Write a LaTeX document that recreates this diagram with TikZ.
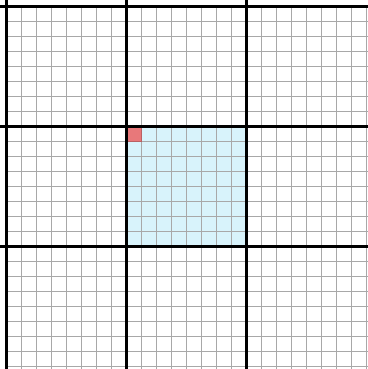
\documentclass[tikz,border=0pt]{standalone}
\usepackage{xcolor}
\usepackage{tikz}
\definecolor{blockblue}{HTML}{D8F3FB}
\definecolor{cellred}{HTML}{E8787A}
\tikzset{
  fine/.style   = {draw=gray!68, line width=1.2pt},
  coarse/.style = {draw=black, line width=3pt},
  region/.style = {fill=blockblue},
  pick/.style   = {fill=cellred, draw=cellred!80!black, line width=0.6pt},
}

\begin{document}
\begin{tikzpicture}[x=0.5cm, y=-0.5cm]
  \useasboundingbox (-0.45,-0.42) rectangle (24.08,24.18);
  % shaded block and picked cell
  \fill[region] (8,8) rectangle (16,16);
  \foreach \k in {1,...,24} {
    \draw[fine] (\k,0) -- (\k,24.5);
    \draw[fine] (0,\k) -- (24.5,\k);
  }
  \filldraw[pick] (8,8) rectangle (9,9);
  % block borders
  \foreach \k in {0,8,16} {
    \draw[coarse] (\k,-0.5) -- (\k,24.5);
    \draw[coarse] (-0.5,\k) -- (24.5,\k);
  }
\end{tikzpicture}
\end{document}
